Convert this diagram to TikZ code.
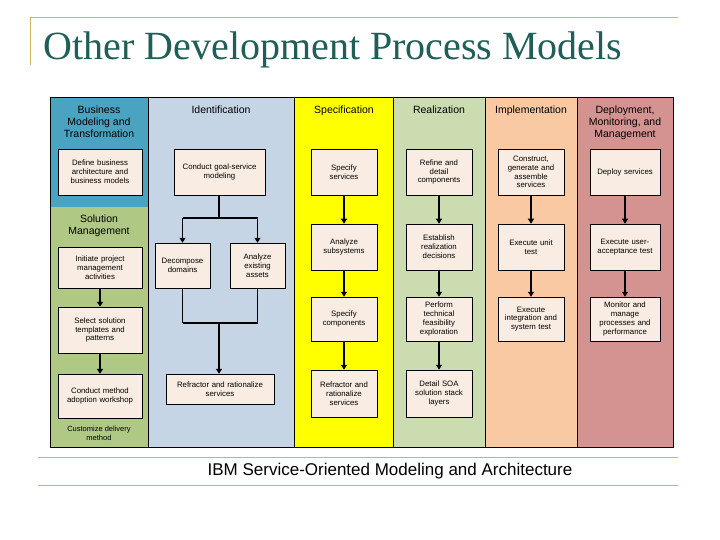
\documentclass[tikz,border=0pt]{standalone}
\usepackage{fontspec}
\setmainfont{Liberation Sans}
\newfontfamily\titlefont{Liberation Serif}
\usetikzlibrary{arrows.meta}
\begin{document}
\begin{tikzpicture}[x=1pt,y=-1pt,
  bx/.style={draw=black,line width=0.5pt,fill=boxc,align=center,font=\fontsize{7.8}{8.8}\selectfont,inner sep=1pt},
  hd/.style={align=center,font=\fontsize{10.5}{12}\selectfont},
  ar/.style={line width=1.8pt,-{Triangle[length=5pt,width=6pt]}},
  ln/.style={line width=1.8pt}]
\definecolor{boxc}{HTML}{F9EDE3}
\definecolor{cblue}{HTML}{4AA3C0}
\definecolor{cgreen}{HTML}{AFC985}
\definecolor{clb}{HTML}{C5D5E5}
\definecolor{cyel}{HTML}{FFFF00}
\definecolor{cgr2}{HTML}{CBDDB0}
\definecolor{cpe}{HTML}{F8C9A2}
\definecolor{cro}{HTML}{D49290}
\definecolor{rulec}{HTML}{C8B860}
\definecolor{titc}{HTML}{1F5F57}
\useasboundingbox (0,0) rectangle (720,540);
\fill[white] (0,0) rectangle (720,540);
% rules
\draw[rulec,line width=1pt] (30,18) -- (678,18);
\draw[rulec,line width=1pt] (30,18) -- (30,65);
\draw[rulec,line width=1pt] (38,457) -- (678,457);
\draw[rulec,line width=1pt] (38,485) -- (678,485);
\node[anchor=west,text=titc,font=\titlefont\fontsize{40}{42}\selectfont] (title) at (40,50) {Other Development Process Models};
\node[font=\fontsize{17}{19}\selectfont] (cap) at (390,471) {IBM Service-Oriented Modeling and Architecture};
% columns
\fill[cblue] (50,97) rectangle (148,207);
\fill[cgreen] (50,207) rectangle (148,447);
\fill[clb] (148,97) rectangle (294,447);
\fill[cyel] (294,97) rectangle (393,447);
\fill[cgr2] (393,97) rectangle (485,447);
\fill[cpe] (485,97) rectangle (577,447);
\fill[cro] (577,97) rectangle (673,447);
\draw[line width=0.7pt] (50,97) rectangle (673,447);
\foreach \x in {148,294,393,485,577} \draw[line width=0.7pt] (\x,97) -- (\x,447);
% headers
\node[hd,anchor=north] (h1) at (99,102) {Business\\Modeling and\\Transformation};
\node[hd,anchor=north] (h1b) at (99,211) {Solution\\Management};
\node[hd,anchor=north] (h2) at (221,102) {Identification};
\node[hd,anchor=north] (h3) at (344,102) {Specification};
\node[hd,anchor=north] (h4) at (439,102) {Realization};
\node[hd,anchor=north] (h5) at (531,102) {Implementation};
\node[hd,anchor=north] (h6) at (625,102) {Deployment,\\Monitoring, and\\Management};
\node[font=\fontsize{7.5}{9}\selectfont,align=center] (cust) at (99,433) {Customize delivery\\method};
\newcommand{\bxn}[6]{\node[bx,minimum width=#4-#2,minimum height=#5-#3,text width=#4-#2-4] (#1) at ({(#2+#4)/2},{(#3+#5)/2}) {#6};}
\bxn{a1}{58}{149}{142}{195}{Define business\\architecture and\\business models}
\bxn{a2}{58}{247}{142}{288}{Initiate project\\management\\activities}
\bxn{a3}{58}{307}{142}{353}{Select solution\\templates and\\patterns}
\bxn{a4}{58}{374}{142}{418}{Conduct method\\adoption workshop}
\bxn{b1}{174}{149}{265}{195}{Conduct goal-service\\modeling}
\bxn{b2}{155}{243}{210}{288}{Decompose\\domains}
\bxn{b3}{230}{243}{285}{288}{Analyze\\existing\\assets}
\bxn{b4}{166}{374}{274}{404}{Refractor and rationalize\\services}
\bxn{c1}{311}{149}{377}{195}{Specify\\services}
\bxn{c2}{311}{224}{377}{270}{Analyze\\subsystems}
\bxn{c3}{311}{297}{377}{341}{Specify\\components}
\bxn{c4}{311}{370}{377}{417}{Refractor and\\rationalize\\services}
\bxn{d1}{406}{149}{472}{195}{Refine and\\detail\\components}
\bxn{d2}{406}{224}{472}{270}{Establish\\realization\\decisions}
\bxn{d3}{406}{297}{472}{341}{Perform\\technical\\feasibility\\exploration}
\bxn{d4}{406}{370}{472}{417}{Detail SOA\\solution stack\\layers}
\bxn{e1}{498}{149}{564}{195}{Construct,\\generate and\\assemble\\services}
\bxn{e2}{498}{224}{564}{270}{Execute unit\\test}
\bxn{e3}{498}{297}{564}{341}{Execute\\integration and\\system test}
\bxn{f1}{590}{149}{660}{195}{Deploy services}
\bxn{f2}{590}{224}{660}{270}{Execute user-\\acceptance test}
\bxn{f3}{590}{297}{660}{341}{Monitor and\\manage\\processes and\\performance}
% arrows
\draw[ar] (a2) -- (a3);
\draw[ar] (a3) -- (a4);
\foreach \p/\q in {c1/c2,c2/c3,c3/c4,d1/d2,d2/d3,d3/d4,e1/e2,e2/e3,f1/f2,f2/f3}
  \draw[ar] (\p) -- (\q);
\coordinate (j1) at (219,218);
\coordinate (j2) at (219,323);
\draw[ln] (b1.south -| j1) -- (j1);
\draw[ln] (j1 -| b2) -- (j1 -| b3);
\draw[ar] (j1 -| b2) -- (b2.north);
\draw[ar] (j1 -| b3) -- (b3.north);
\draw[ln] (b2.south) -- (j2 -| b2);
\draw[ln] (b3.south) -- (j2 -| b3);
\draw[ln] (j2 -| b2) -- (j2 -| b3);
\draw[ar] (j2) -- (j2 |- b4.north);
\end{tikzpicture}
\end{document}
